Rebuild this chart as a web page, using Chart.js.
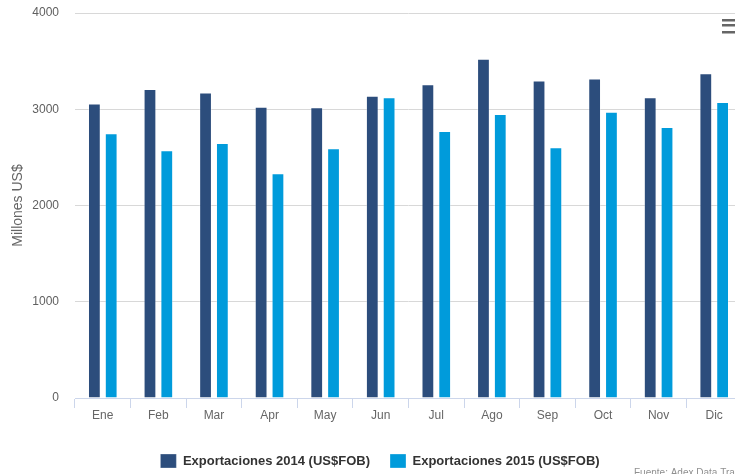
<!DOCTYPE html>
<html>
<head>
<meta charset="utf-8">
<script src="https://cdn.jsdelivr.net/npm/chart.js@4.4.1/dist/chart.umd.min.js"></script>
<style>
  html, body { margin: 0; padding: 0; background: #fff; overflow: hidden; }
  #wrap { width: 742px; height: 478px; position: relative; }
</style>
</head>
<body>
<div id="wrap"><canvas id="myChart0"></canvas></div>
<script>
const meses = ['Ene', 'Feb', 'Mar', 'Apr', 'May', 'Jun', 'Jul', 'Ago', 'Sep', 'Oct', 'Nov', 'Dic'];
const exp2014 = [3060, 3210, 3175, 3025, 3020, 3140, 3260, 3525, 3300, 3320, 3125, 3375];
const exp2015 = [2750, 2575, 2650, 2335, 2595, 3125, 2775, 2950, 2605, 2975, 2815, 3075];
const yTicks = [0, 1000, 2000, 3000, 4000];

const fuente = 'Fuente: Adex Data Trade';

// menu icon + fuente + legend shift
const extras = {
    id: 'extras',
    afterLayout(chart) {
        chart.legend.left += 9;
        chart.legend.right += 9;
    },
    afterDraw(chart) {
        const c = chart.ctx;
        c.save();
        c.fillStyle = '#666';
        [19, 24, 31].forEach(y => c.fillRect(722, y, 16, 2.5));
        c.fillStyle = '#909090';
        c.font = '10px "Liberation Sans", Arial, sans-serif';
        c.textBaseline = 'top';
        c.fillText(fuente, 634, 468);
        c.restore();
    }
};

const ctx = document.getElementById('myChart0').getContext('2d');
let myChart = new Chart(ctx, {
    type: 'bar',
    data: {
        labels: meses,
        datasets: [{
            label: 'Exportaciones 2014 (US$FOB)',
            data: exp2014,
            backgroundColor: '#2c4d7c',
            borderColor: 'rgba(255,255,255,0.3)',
            borderWidth: 1,
            categoryPercentage: 0.605,
            barPercentage: 0.76
        }, {
            label: 'Exportaciones 2015 (US$FOB)',
            data: exp2015,
            backgroundColor: '#009bdb',
            borderColor: 'rgba(255,255,255,0.3)',
            borderWidth: 1,
            categoryPercentage: 0.605,
            barPercentage: 0.76
        }]
    },
    options: {
        responsive: true,
        maintainAspectRatio: false,
        animation: false,
        layout: { padding: { top: 13, left: 0, right: 0, bottom: 0 } },
        plugins: {
            tooltip: { enabled: false },
            legend: {
                position: 'bottom',
                labels: {
                    boxWidth: 16,
                    boxHeight: 14,
                    padding: 20,
                    color: '#333',
                    font: { family: '"Liberation Sans", Arial, sans-serif', size: 13, weight: 'bold' }
                }
            }
        },
        scales: {
            x: {
                afterFit: s => { s.height = 36; },
                grid: {
                    drawOnChartArea: false,
                    drawTicks: true,
                    tickLength: 10,
                    color: '#ccd6eb',
                    offset: true
                },
                border: { color: '#ccd6eb' },
                ticks: {
                    padding: 0,
                    color: '#666',
                    font: { family: '"Liberation Sans", Arial, sans-serif', size: 12 }
                }
            },
            y: {
                min: 0,
                max: 4000,
                afterFit: s => { s.width = 75; },
                afterBuildTicks: s => { s.ticks = yTicks.map(v => ({ value: v })); },
                grid: { color: '#d8d8d8', drawTicks: true, tickLength: 14, tickColor: 'transparent' },
                border: { display: false },
                ticks: {
                    padding: 2,
                    color: '#606060',
                    callback: v => String(v),
                    font: { family: '"Liberation Sans", Arial, sans-serif', size: 12 }
                },
                title: {
                    display: true,
                    text: 'Millones US$',
                    color: '#666',
                    padding: { top: 10, bottom: 0 },
                    font: { family: '"Liberation Sans", Arial, sans-serif', size: 14 }
                }
            }
        }
    },
    plugins: [extras]
});
</script>
</body>
</html>
